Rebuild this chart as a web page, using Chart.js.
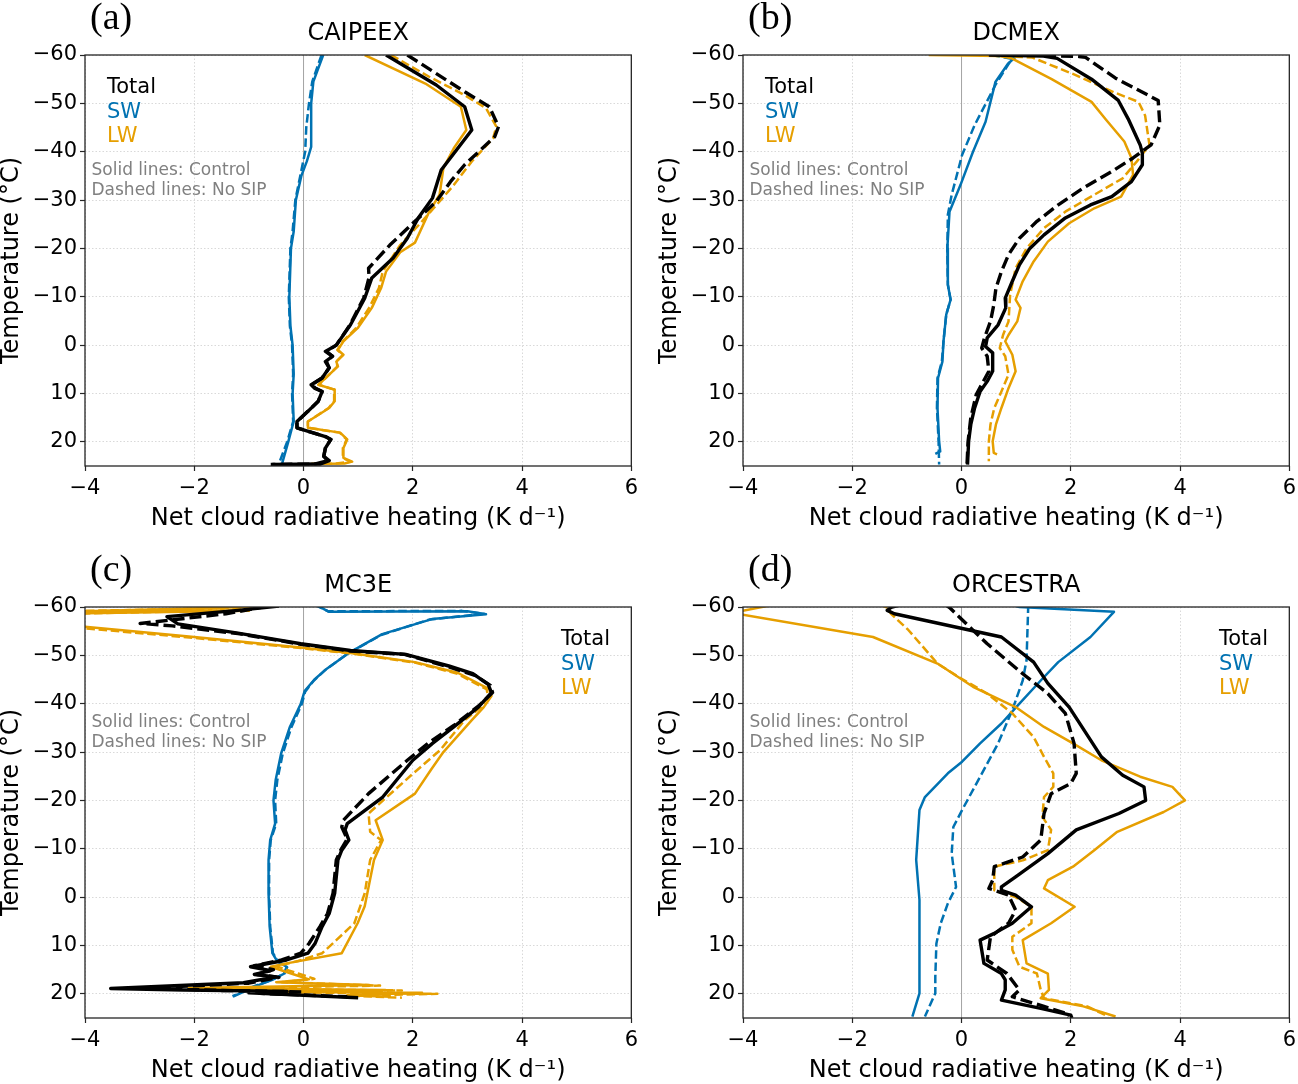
<!DOCTYPE html>
<html>
<head>
<meta charset="utf-8">
<script src="https://cdn.jsdelivr.net/npm/chart.js@4.4.1/dist/chart.umd.min.js"></script>
<style>
  body { margin: 0; background: #fff; }
  #fig { position: relative; width: 1298px; height: 1084px; overflow: hidden; }
  .panel { position: absolute; }
</style>
</head>
<body>
<div id="fig">
  <div class="panel" style="left:0;top:1px"><canvas id="pa" width="643" height="531"></canvas></div>
  <div class="panel" style="left:658px;top:1px"><canvas id="pb" width="643" height="531"></canvas></div>
  <div class="panel" style="left:0;top:553px"><canvas id="pc" width="643" height="531"></canvas></div>
  <div class="panel" style="left:658px;top:553px"><canvas id="pd" width="643" height="531"></canvas></div>
</div>
<script>
// axis ticks
const xTicks = [-4, -2, 0, 2, 4, 6];
const yTicks = [-60, -50, -40, -30, -20, -10, 0, 10, 20];
const yRange = [-60, 25];
const refLineX = 0;

// each series: [heating (K/d), temperature (°C)] pairs

// (a) CAIPEEX
const caipeexTotalCtrl = [[1.51,-60],[2.43,-53.8],[2.95,-49.3],[3.08,-44.5],[2.52,-36.2],[2.36,-30.4],[2.1,-26.3],[1.9,-22.1],[1.64,-18],[1.25,-13.9],[1.12,-9.7],[0.86,-4.2],[0.6,0],[0.4,1.3],[0.53,2.3],[0.4,3.4],[0.47,4.7],[0.34,6.8],[0.14,8.2],[0.2,8.9],[0.34,9.6],[0.27,11.6],[0.08,13.7],[-0.12,15.8],[-0.12,17.1],[0.4,18.9],[0.5,19.5],[0.4,21.3],[0.37,23],[0.47,23.9],[0.3,24.6],[-0.57,24.7]];
const caipeexTotalNoSip = [[1.9,-60],[2.95,-52.4],[3.4,-49.3],[3.57,-45.2],[3.5,-43.1],[2.95,-37.3],[2.69,-33.8],[2.43,-29.7],[2.04,-25.6],[1.58,-20.7],[1.19,-15.9],[1.2,-14],[1.1,-9.7],[0.85,-4.2],[0.6,0],[0.42,1.3],[0.53,2.3],[0.42,3.4],[0.47,4.7],[0.34,6.8],[0.15,8.2],[0.22,8.9],[0.34,9.6],[0.27,11.6],[0.08,13.7],[-0.12,15.8],[-0.12,17.1],[0.4,18.9],[0.5,19.5],[0.4,21.3],[0.37,23],[0.45,23.9],[0.2,24.6],[-0.6,24.7]];
const caipeexSwCtrl = [[0.36,-60],[0.18,-54.5],[0.14,-50],[0.14,-41],[0.06,-38],[-0.04,-35],[-0.14,-30],[-0.18,-23.5],[-0.23,-20],[-0.26,-10],[-0.24,-4],[-0.2,0],[-0.18,6],[-0.2,10],[-0.18,15.8],[-0.28,20],[-0.39,24.4]];
const caipeexSwNoSip = [[0.33,-60],[0.16,-54.5],[0.1,-50],[0.05,-45],[0.03,-40],[-0.06,-35],[-0.15,-30],[-0.2,-23.5],[-0.24,-20],[-0.27,-10],[-0.25,-4],[-0.21,0],[-0.19,6],[-0.21,10],[-0.19,15.8],[-0.3,20],[-0.45,24.5]];
const caipeexLwCtrl = [[1.12,-60],[2.23,-54.1],[2.88,-49.3],[2.98,-44.5],[2.75,-40.7],[2.56,-36.6],[2.49,-31.1],[2.3,-27.6],[2.04,-21.2],[1.77,-19.2],[1.51,-15.2],[1.42,-11.8],[1.25,-7.7],[0.99,-3.5],[0.73,-0.8],[0.63,1],[0.73,2],[0.6,3.4],[0.63,4.4],[0.47,6.1],[0.27,8.2],[0.57,9.2],[0.57,11.6],[0.47,13],[0.08,15.8],[0.08,17.1],[0.67,18.1],[0.8,19.5],[0.73,21.3],[0.73,23.3],[0.89,24.1],[0.75,24.5],[0.14,24.6]];
const caipeexLwNoSip = [[1.6,-60],[2.3,-55.5],[2.95,-51.7],[3.34,-49],[3.53,-45.2],[3.47,-42.8],[3.08,-38],[2.75,-33.1],[2.49,-29.7],[2.17,-25.6],[1.77,-20.7],[1.45,-15.2],[1.38,-11.8],[1.2,-7.7],[0.96,-3.5],[0.72,-0.8],[0.62,1],[0.72,2],[0.6,3.4],[0.62,4.4],[0.47,6.1],[0.28,8.2],[0.56,9.2],[0.56,11.6],[0.46,13],[0.08,15.8],[0.08,17.1],[0.66,18.1],[0.79,19.5],[0.72,21.3],[0.72,23.3],[0.85,24.1],[0.6,24.5],[0.1,24.6]];

// (b) DCMEX
const dcmexTotalCtrl = [[0.5,-60],[1.5,-59.8],[1.75,-59.3],[2.38,-55],[2.87,-50.6],[3.05,-46.8],[3.27,-41.4],[3.31,-39.7],[3.31,-37.3],[3.11,-33.8],[2.75,-30.7],[2.36,-29],[1.9,-26.3],[1.51,-22.8],[1.25,-20],[1.06,-16.6],[0.93,-13.2],[0.8,-9.7],[0.81,-7.7],[0.67,-4.2],[0.47,-1.5],[0.44,0.3],[0.57,1.6],[0.57,5.4],[0.47,7.5],[0.34,9.6],[0.24,13],[0.17,16.4],[0.13,19.9],[0.11,24.7]];
const dcmexTotalNoSip = [[1.2,-60],[2.15,-59.7],[2.27,-59.5],[2.82,-55.2],[3.6,-50.6],[3.63,-45.5],[3.47,-41.4],[3.14,-38.7],[2.75,-35.9],[2.23,-32.5],[1.77,-29],[1.38,-25.6],[1.06,-22.1],[0.86,-18.7],[0.73,-15.2],[0.63,-11.8],[0.59,-8.3],[0.53,-4.9],[0.42,-1.5],[0.37,0.6],[0.47,2.3],[0.5,5.4],[0.4,7.5],[0.27,10.2],[0.17,15],[0.12,19.9],[0.1,24.7]];
const dcmexSwCtrl = [[0.5,-60],[0.99,-59.6],[0.85,-58.2],[0.62,-54.4],[0.44,-46.2],[0.21,-40],[-0.02,-33.1],[-0.22,-27.6],[-0.26,-20],[-0.25,-12.5],[-0.2,-9.4],[-0.28,-6.3],[-0.33,-0.8],[-0.35,3.4],[-0.43,6.8],[-0.44,13],[-0.41,19.9],[-0.39,22],[-0.48,22.5]];
const dcmexSwNoSip = [[0.55,-60],[0.92,-59.2],[0.63,-54],[0.24,-45.5],[0.01,-39.3],[-0.18,-31.1],[-0.25,-27],[-0.26,-20],[-0.25,-12.5],[-0.2,-9.4],[-0.28,-6.3],[-0.33,-0.8],[-0.36,3.4],[-0.44,6.8],[-0.45,13],[-0.42,19.9],[-0.41,24.7]];
const dcmexLwCtrl = [[-0.6,-60],[0.7,-59.8],[0.92,-59.3],[1.65,-55],[2.38,-50.3],[2.63,-46.8],[2.98,-42.1],[3.11,-38.7],[3.14,-35.2],[2.92,-30.7],[2.43,-28.3],[1.97,-25.2],[1.58,-21.4],[1.32,-17.3],[1.12,-13.2],[0.99,-9.4],[1.08,-7.7],[1.02,-4.9],[0.86,-2.1],[0.8,-0.8],[0.93,2],[0.99,5.4],[0.86,8.9],[0.73,13],[0.63,16.4],[0.57,19.9],[0.59,22.3],[0.65,22.6]];
const dcmexLwNoSip = [[0.3,-60],[1.29,-59.5],[2.08,-55.9],[2.81,-52.2],[3.24,-50.3],[3.36,-47.5],[3.44,-41.4],[3.21,-38],[2.95,-34.5],[2.43,-31.1],[1.9,-27.6],[1.51,-24.2],[1.19,-20],[0.99,-15.9],[0.89,-10.4],[0.86,-4.9],[0.76,-2.1],[0.7,0.6],[0.8,2.3],[0.86,6.1],[0.73,9.6],[0.6,13],[0.53,16.4],[0.5,19.9],[0.5,24]];

// (c) MC3E
const mc3eTotalCtrl = [[-0.45,-60.2],[-1.2,-59.3],[-2.5,-58],[-2.3,-56.5],[-1.2,-54.6],[-0.05,-52.4],[0.86,-51],[1.87,-50.2],[2.66,-47.8],[3.1,-46.2],[3.38,-44],[3.44,-42.3],[3.2,-39.3],[2.75,-35.2],[2.36,-31.8],[2.0,-28.3],[1.45,-20.7],[0.8,-15.2],[0.76,-13.9],[0.83,-11.8],[0.7,-9.7],[0.63,-7.7],[0.57,-0.8],[0.47,3.4],[0.34,6.1],[0.21,9.6],[0.08,11.6],[-0.31,13],[-0.97,14.4],[-0.6,15.2],[-0.9,16],[-0.5,16.5],[-1.1,17.7],[-3.53,18.9],[-2.2,19.2],[-0.3,19.5],[-1.0,19.8],[1.0,20.8]];
const mc3eTotalNoSip = [[-0.64,-60.2],[-1.42,-58.6],[-2.99,-56.6],[-2.4,-56.1],[-1.2,-54.5],[-0.05,-52.3],[0.86,-50.9],[1.85,-50.2],[2.66,-47.6],[3.15,-45.8],[3.42,-43.8],[3.46,-42.3],[3.2,-39.5],[2.75,-35.5],[2.3,-32],[1.9,-28.3],[1.19,-21.4],[0.73,-15.9],[0.7,-14.5],[0.8,-12],[0.68,-9.7],[0.6,-7.7],[0.54,-0.8],[0.44,3.4],[0.3,6.1],[0.1,9.6],[-0.05,11.6],[-0.4,13],[-0.9,14.2],[-0.55,15],[-0.85,16],[-0.45,16.6],[-1.0,17.8],[-2.9,18.8],[-1.5,19.3],[0.0,19.6],[-0.8,19.9],[0.8,20.6]];
const mc3eSwCtrl = [[0.22,-60.5],[0.4,-59.4],[0.47,-59],[3.0,-59.1],[3.34,-58.5],[2.35,-57.5],[1.44,-54.4],[0.83,-50.5],[0.4,-47],[0.2,-45],[0.02,-42.6],[-0.05,-40],[-0.25,-35.2],[-0.41,-29.7],[-0.51,-24.2],[-0.55,-20],[-0.52,-15.2],[-0.61,-11.8],[-0.64,-7.7],[-0.64,-0.8],[-0.62,6.1],[-0.57,11.6],[-0.48,13.3],[-0.31,14.4],[-0.35,15.8],[-0.57,17.1],[-0.9,18.5],[-1.16,19.9],[-1.29,20.6]];
const mc3eSwNoSip = [[0.2,-60.5],[0.38,-59.5],[0.45,-59.1],[2.9,-59.2],[3.3,-58.6],[2.3,-57.4],[1.42,-54.2],[0.8,-50.3],[0.38,-46.8],[0.19,-44.8],[0.03,-42.5],[-0.03,-40],[-0.22,-35.2],[-0.38,-29.7],[-0.48,-24.2],[-0.52,-20],[-0.5,-15.2],[-0.6,-11.8],[-0.63,-7.7],[-0.63,-0.8],[-0.61,6.1],[-0.56,11.6],[-0.46,13.3],[-0.3,14.5],[-0.36,15.9],[-0.6,17.2],[-0.95,18.6],[-1.2,20],[-1.3,20.5]];
const mc3eLwCtrl = [[-0.65,-60.1],[-4.5,-59.0],[-1.0,-59.2],[-6.5,-58.3],[-4,-55.9],[-2,-53.8],[-0.05,-51.6],[0.86,-50.5],[2.04,-48.6],[2.82,-46.4],[3.4,-43],[3.44,-41.6],[3.3,-39.3],[3.08,-36.6],[2.56,-30],[2.33,-26.3],[2.04,-21.4],[1.32,-15.9],[1.45,-11.8],[1.29,-7.7],[1.12,1.9],[0.99,5.4],[0.7,11.6],[-0.31,13.7],[-0.6,14.4],[-0.2,15.9],[0.1,17],[-0.5,17.6],[1.2,18.2],[-2.1,18.8],[1.5,19.2],[-0.5,19.6],[2.17,19.8],[0.8,20.3],[1.6,20.6]];
const mc3eLwNoSip = [[-0.7,-59.9],[-4.5,-59.1],[-1.3,-59.3],[-6.5,-58.1],[-4,-55.6],[-2,-53.6],[-0.05,-51.5],[0.86,-50.4],[2.04,-48.5],[2.82,-46.2],[3.35,-43],[3.38,-41.6],[3.25,-39.3],[2.95,-36.6],[2.5,-30.4],[1.97,-25.2],[1.19,-17.3],[1.22,-13.5],[1.42,-11.8],[1.22,-7.7],[1.12,-0.8],[0.93,5.4],[0.6,8.9],[0.34,11.6],[-0.1,13.2],[-0.5,14.3],[-0.1,15.8],[0.2,16.9],[-0.4,17.6],[1.4,18.3],[-2.0,18.9],[1.8,19.3],[-0.3,19.7],[2.45,20.0],[0.9,20.4],[1.8,20.8]];

// (d) ORCESTRA
const orcestraTotalCtrl = [[-1.1,-60.5],[-1.29,-59.9],[-1.36,-59.3],[-1.23,-58.6],[0.73,-53.8],[1.32,-48.6],[1.58,-44.2],[1.97,-39.3],[2.56,-29],[2.95,-25.2],[3.34,-22.8],[3.37,-20],[2.88,-17.3],[2.1,-13.9],[1.58,-9],[0.99,-4.2],[0.73,-2.1],[0.73,-1.4],[0.99,-0.4],[1.28,2],[0.93,5.4],[0.6,7.5],[0.34,8.9],[0.41,13.7],[0.73,15.8],[0.8,17.1],[0.8,19.2],[0.73,21.3],[1.45,23],[2.0,24.4],[2.02,25]];
const orcestraTotalNoSip = [[-0.3,-60.5],[-0.22,-59.9],[0.21,-55.2],[0.47,-52.4],[1.12,-46.2],[1.58,-42.1],[1.9,-38],[2.06,-31.8],[2.1,-25.6],[2.0,-23.5],[1.64,-21.4],[1.51,-17.3],[1.45,-11.8],[1.12,-8.3],[0.6,-6.3],[0.57,-3.5],[0.5,-1.8],[0.86,-0.4],[0.99,2.7],[0.86,5.4],[0.53,8.2],[0.47,13],[0.83,15.8],[1.06,19.2],[0.93,20.6],[1.51,22.6],[1.9,24],[1.96,24.7]];
const orcestraSwCtrl = [[0.9,-60.5],[1.06,-60],[2.79,-59],[2.36,-53.8],[1.77,-48.6],[1.45,-44.8],[1.06,-40],[0.73,-35.9],[0.34,-31.8],[0.01,-28],[-0.25,-25.6],[-0.67,-20.7],[-0.77,-18],[-0.83,-7.7],[-0.77,0.6],[-0.77,13],[-0.77,19.9],[-0.9,24.7]];
const orcestraSwNoSip = [[1.22,-60.5],[1.22,-59.9],[1.19,-49],[1.12,-44.8],[0.93,-38.7],[0.67,-31.8],[0.34,-24.9],[0.01,-18],[-0.15,-14.5],[-0.18,-9],[-0.1,-2.1],[-0.25,1.3],[-0.38,5.4],[-0.46,9.6],[-0.48,16.5],[-0.48,19.9],[-0.67,24.7]];
const orcestraLwCtrl = [[-3.2,-61],[-4.2,-58.8],[-1.62,-53.8],[-0.44,-48.3],[0.21,-43.5],[0.99,-39.3],[1.51,-35.2],[2.04,-31.8],[2.56,-28.3],[3.27,-24.9],[3.86,-22.8],[4.09,-20],[3.7,-17.6],[2.85,-13.5],[2.43,-9.7],[2.04,-6.3],[1.58,-3.5],[1.51,-1.8],[2.07,2],[1.64,5.4],[1.12,8.9],[1.19,13.7],[1.58,15.8],[1.6,19.2],[1.45,20.9],[2.23,22.6],[2.82,24.7]];
const orcestraLwNoSip = [[-1.5,-60.5],[-1.36,-59.9],[-1.29,-58.6],[-0.97,-55.2],[-0.44,-48.3],[-0.05,-45.5],[0.47,-42.1],[0.93,-38],[1.32,-33.1],[1.51,-29],[1.68,-25.6],[1.68,-22.8],[1.51,-20.7],[1.48,-16.6],[1.64,-13.9],[1.58,-9.7],[1.12,-7.6],[0.6,-6.3],[0.6,-2.8],[0.6,-1.4],[0.99,0],[1.28,2],[1.28,5.4],[0.93,8.2],[0.93,10.9],[1.06,14.4],[1.38,15.8],[1.45,19.2],[1.51,20.9],[2.3,22.6],[2.69,24.7]];

const panels = [
  { id: 'pa', label: '(a)', title: 'CAIPEEX', legendRight: false,
    total: [caipeexTotalCtrl, caipeexTotalNoSip], sw: [caipeexSwCtrl, caipeexSwNoSip], lw: [caipeexLwCtrl, caipeexLwNoSip] },
  { id: 'pb', label: '(b)', title: 'DCMEX', legendRight: false,
    total: [dcmexTotalCtrl, dcmexTotalNoSip], sw: [dcmexSwCtrl, dcmexSwNoSip], lw: [dcmexLwCtrl, dcmexLwNoSip] },
  { id: 'pc', label: '(c)', title: 'MC3E', legendRight: true,
    total: [mc3eTotalCtrl, mc3eTotalNoSip], sw: [mc3eSwCtrl, mc3eSwNoSip], lw: [mc3eLwCtrl, mc3eLwNoSip] },
  { id: 'pd', label: '(d)', title: 'ORCESTRA', legendRight: true,
    total: [orcestraTotalCtrl, orcestraTotalNoSip], sw: [orcestraSwCtrl, orcestraSwNoSip], lw: [orcestraLwCtrl, orcestraLwNoSip] }
];

const COLORS = { total: '#000000', sw: '#0072B2', lw: '#E69F00' };
const legendItems = [['Total', COLORS.total], ['SW', COLORS.sw], ['LW', COLORS.lw]];
const noteLines = ['Solid lines: Control', 'Dashed lines: No SIP'];
const FONT = '"DejaVu Sans", sans-serif';

const fmtTick = v => (v < 0 ? '\u2212' + Math.abs(v) : String(v));
const toPoints = arr => arr.map(([x, y]) => ({ x, y }));

function lineSet(data, key, dashed) {
  const isTotal = key === 'total';
  return {
    data: toPoints(data),
    showLine: true,
    borderColor: COLORS[key],
    borderWidth: isTotal ? 3.4 : 2.5,
    borderDash: dashed ? (isTotal ? [12, 5] : [8.5, 3.7]) : [],
    borderJoinStyle: 'round',
    pointRadius: 0,
    tension: 0,
    clip: 0,
    order: 1
  };
}

// frame box around the plot area, like the matplotlib spines
const boxPlugin = {
  id: 'box',
  afterDatasetsDraw(chart) {
    const { ctx, chartArea: a } = chart;
    ctx.save();
    ctx.strokeStyle = '#262626';
    ctx.lineWidth = 1.3;
    ctx.strokeRect(a.left, a.top, a.right - a.left, a.bottom - a.top);
    ctx.restore();
  }
};

const textPlugin = {
  id: 'panelText',
  afterDraw(chart, args, opts) {
    const { ctx, chartArea: a } = chart;
    ctx.save();
    ctx.textBaseline = 'alphabetic';
    ctx.fillStyle = '#000';
    ctx.textAlign = 'left';
    ctx.font = '38px "Liberation Serif", serif';
    ctx.fillText(opts.label, a.left + 5, a.top - 26);
    ctx.font = '24px ' + FONT;
    ctx.textAlign = 'center';
    ctx.fillText(opts.title, (a.left + a.right) / 2, a.top - 15);
    ctx.textAlign = 'left';
    const lx = a.left + (opts.legendRight ? 476 : 22);
    ctx.font = '21px ' + FONT;
    legendItems.forEach(([t, c], i) => {
      ctx.fillStyle = c;
      ctx.fillText(t, lx, a.top + 38 + i * 24.7);
    });
    ctx.font = '17px ' + FONT;
    ctx.fillStyle = '#808080';
    noteLines.forEach((t, i) => ctx.fillText(t, a.left + 6.5, a.top + 120 + i * 20));
    ctx.restore();
  }
};

function axisOpts(extra) {
  return Object.assign({
    type: 'linear',
    ticks: { color: '#000', font: { family: FONT, size: 21 }, callback: fmtTick, includeBounds: false },
    grid: { color: '#cfcfcf', lineWidth: 0.8, tickColor: '#262626', tickLength: 5, tickWidth: 1.2 },
    border: { display: false, dash: [1.5, 2] }
  }, extra);
}

panels.forEach(p => {
  const datasets = [];
  ['total', 'lw', 'sw'].forEach(key => {
    datasets.push(lineSet(p[key][0], key, false));
    datasets.push(lineSet(p[key][1], key, true));
  });
  datasets.push({
    data: toPoints([[refLineX, yRange[0]], [refLineX, yRange[1]]]),
    showLine: true, borderColor: '#a6a6a6', borderWidth: 1, pointRadius: 0, order: 5
  });

  const xAxis = axisOpts({
    min: xTicks[0], max: xTicks[xTicks.length - 1],
    title: { display: true, text: 'Net cloud radiative heating (K d\u207B\u00B9)', color: '#000',
      font: { family: FONT, size: 24, lineHeight: 1 }, padding: { top: 0, bottom: 1 } },
    afterFit: s => { s.height = 66; }
  });
  xAxis.ticks = Object.assign({}, xAxis.ticks, { stepSize: 2, padding: 5 });

  const yAxis = axisOpts({
    reverse: true, min: yRange[0], max: yRange[1],
    title: { display: true, text: 'Temperature (\u00B0C)', color: '#000',
      font: { family: FONT, size: 24, lineHeight: 1 }, padding: { top: 0, bottom: 0 } },
    afterFit: s => { s.width = 85; }
  });
  yAxis.ticks = Object.assign({}, yAxis.ticks, { stepSize: 10, padding: 3 });

  new Chart(document.getElementById(p.id), {
    type: 'scatter',
    data: { datasets },
    options: {
      responsive: false,
      animation: false,
      layout: { padding: { top: 54, right: 10, bottom: 0, left: 0 } },
      plugins: {
        legend: { display: false },
        tooltip: { enabled: false },
        panelText: { label: p.label, title: p.title, legendRight: p.legendRight }
      },
      scales: { x: xAxis, y: yAxis }
    },
    plugins: [boxPlugin, textPlugin]
  });
});
</script>
</body>
</html>
